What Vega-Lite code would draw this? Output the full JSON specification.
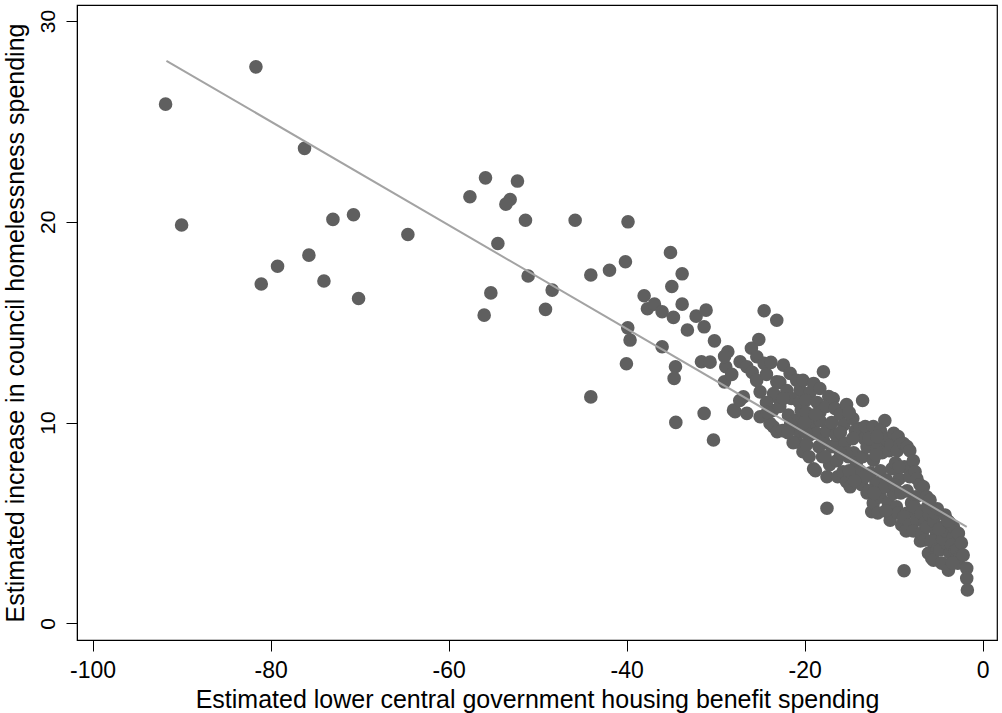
{
  "$schema": "https://vega.github.io/schema/vega-lite/v6.json",
  "width": 920,
  "height": 635,
  "autosize": "none",
  "padding": {"left": 77, "top": 5, "right": 5, "bottom": 73},
  "background": "white",
  "config": {"view": {"stroke": "black", "strokeWidth": 1.2}, "font": "Liberation Sans"},
  "layer": [
    {
      "data": {"values": [
        {"x": -91.8, "y": 25.86}, {"x": -81.65, "y": 27.72}, {"x": -90.0, "y": 19.84}, {"x": -76.19, "y": 23.66},
        {"x": -81.05, "y": 16.9}, {"x": -79.22, "y": 17.79}, {"x": -75.7, "y": 18.34}, {"x": -74.01, "y": 17.05},
        {"x": -73.0, "y": 20.12}, {"x": -70.69, "y": 20.35}, {"x": -70.12, "y": 16.18}, {"x": -64.58, "y": 19.37},
        {"x": -57.61, "y": 21.25}, {"x": -55.86, "y": 22.19}, {"x": -52.27, "y": 22.03}, {"x": -53.09, "y": 21.11},
        {"x": -53.57, "y": 20.88}, {"x": -51.37, "y": 20.08}, {"x": -45.79, "y": 20.08}, {"x": -54.47, "y": 18.92},
        {"x": -51.07, "y": 17.3}, {"x": -48.37, "y": 16.6}, {"x": -55.26, "y": 16.46}, {"x": -56.01, "y": 15.35},
        {"x": -49.12, "y": 15.64}, {"x": -44.03, "y": 17.35}, {"x": -41.93, "y": 17.59}, {"x": -40.14, "y": 18.01},
        {"x": -39.85, "y": 20.0}, {"x": -35.08, "y": 18.47}, {"x": -33.77, "y": 17.41}, {"x": -34.93, "y": 16.78},
        {"x": -38.04, "y": 16.32}, {"x": -37.67, "y": 15.67}, {"x": -36.88, "y": 15.9}, {"x": -36.02, "y": 15.52},
        {"x": -34.75, "y": 15.24}, {"x": -33.77, "y": 15.9}, {"x": -32.2, "y": 15.3}, {"x": -31.08, "y": 15.6},
        {"x": -31.3, "y": 14.77}, {"x": -33.18, "y": 14.61}, {"x": -39.88, "y": 14.72}, {"x": -39.62, "y": 14.11},
        {"x": -36.02, "y": 13.78}, {"x": -40.03, "y": 12.93}, {"x": -44.03, "y": 11.28}, {"x": -34.52, "y": 12.78},
        {"x": -34.67, "y": 12.2}, {"x": -30.14, "y": 14.07}, {"x": -31.6, "y": 13.03}, {"x": -30.63, "y": 13.01},
        {"x": -28.64, "y": 13.53}, {"x": -28.87, "y": 12.78}, {"x": -29.02, "y": 12.03}, {"x": -24.56, "y": 15.57},
        {"x": -23.14, "y": 15.1}, {"x": -25.16, "y": 14.14}, {"x": -25.99, "y": 13.7}, {"x": -25.38, "y": 13.28},
        {"x": -24.56, "y": 12.95}, {"x": -27.26, "y": 13.03}, {"x": -26.5, "y": 12.78}, {"x": -22.39, "y": 12.86},
        {"x": -21.64, "y": 12.45}, {"x": -23.14, "y": 12.03}, {"x": -25.01, "y": 11.53}, {"x": -20.52, "y": 11.62},
        {"x": -23.14, "y": 11.28}, {"x": -26.89, "y": 11.28}, {"x": -27.82, "y": 10.54}, {"x": -26.5, "y": 10.46},
        {"x": -25.01, "y": 10.29}, {"x": -23.52, "y": 9.79}, {"x": -21.83, "y": 10.37}, {"x": -31.3, "y": 10.46},
        {"x": -34.48, "y": 10.01}, {"x": -30.25, "y": 9.13}, {"x": -20.89, "y": 9.04},
        {"x": -28.0, "y": 10.62}, {"x": -27.3, "y": 11.1}, {"x": -25.9, "y": 12.5}, {"x": -25.4, "y": 12.1},
        {"x": -23.5, "y": 11.45}, {"x": -23.9, "y": 9.96}, {"x": -24.3, "y": 12.4}, {"x": -23.6, "y": 10.6},
        {"x": -23.8, "y": 13.0}, {"x": -22.8, "y": 12.0}, {"x": -22.8, "y": 10.8}, {"x": -23.1, "y": 9.54},
        {"x": -22.5, "y": 9.6}, {"x": -28.2, "y": 12.4}, {"x": -29.0, "y": 13.3},
        {"x": -22.0, "y": 11.6}, {"x": -21.5, "y": 11.2}, {"x": -20.9, "y": 12.1}, {"x": -21.0, "y": 10.1},
        {"x": -20.7, "y": 9.6}, {"x": -21.3, "y": 9.0}, {"x": -20.2, "y": 8.55}, {"x": -20.4, "y": 10.6},
        {"x": -21.6, "y": 9.9}, {"x": -20.6, "y": 11.0},
        {"x": -20.2, "y": 12.1}, {"x": -19.0, "y": 11.95}, {"x": -19.4, "y": 11.5}, {"x": -19.9, "y": 11.1},
        {"x": -19.8, "y": 10.5}, {"x": -19.2, "y": 9.96}, {"x": -19.4, "y": 9.4}, {"x": -19.8, "y": 8.9},
        {"x": -19.0, "y": 7.7}, {"x": -19.5, "y": 8.3}, {"x": -18.8, "y": 7.6}, {"x": -18.6, "y": 11.0},
        {"x": -18.3, "y": 11.7}, {"x": -18.3, "y": 10.5}, {"x": -18.3, "y": 10.1}, {"x": -18.65, "y": 9.46},
        {"x": -18.4, "y": 8.8}, {"x": -18.0, "y": 8.3}, {"x": -18.8, "y": 10.4},
        {"x": -17.9, "y": 12.53}, {"x": -17.3, "y": 11.3}, {"x": -17.6, "y": 10.8}, {"x": -17.9, "y": 9.13},
        {"x": -17.5, "y": 9.6}, {"x": -17.0, "y": 8.8}, {"x": -17.5, "y": 7.3}, {"x": -17.2, "y": 7.9},
        {"x": -17.5, "y": 5.73}, {"x": -16.8, "y": 11.2}, {"x": -16.6, "y": 10.7}, {"x": -16.97, "y": 10.0},
        {"x": -16.4, "y": 8.96}, {"x": -16.4, "y": 8.1}, {"x": -16.3, "y": 7.3}, {"x": -16.5, "y": 9.4},
        {"x": -16.0, "y": 10.4},
        {"x": -15.3, "y": 10.9}, {"x": -15.6, "y": 9.9}, {"x": -16.0, "y": 9.5}, {"x": -15.5, "y": 8.96},
        {"x": -15.7, "y": 7.55}, {"x": -15.3, "y": 7.05}, {"x": -15.1, "y": 8.3}, {"x": -14.9, "y": 6.8},
        {"x": -14.6, "y": 10.2}, {"x": -14.3, "y": 9.6}, {"x": -14.5, "y": 8.5}, {"x": -14.2, "y": 8.0},
        {"x": -14.0, "y": 7.2}, {"x": -15.0, "y": 10.5}, {"x": -15.4, "y": 8.5},
        {"x": -13.5, "y": 11.1}, {"x": -13.8, "y": 9.7}, {"x": -13.2, "y": 9.8}, {"x": -13.3, "y": 9.2},
        {"x": -13.5, "y": 8.3}, {"x": -13.0, "y": 8.8}, {"x": -13.8, "y": 7.6}, {"x": -13.6, "y": 6.9},
        {"x": -13.0, "y": 6.5}, {"x": -12.3, "y": 9.8}, {"x": -12.8, "y": 9.2}, {"x": -12.28, "y": 8.13},
        {"x": -12.6, "y": 7.5}, {"x": -12.0, "y": 7.0}, {"x": -12.8, "y": 6.6}, {"x": -12.47, "y": 5.56},
        {"x": -12.3, "y": 6.0},
        {"x": -11.0, "y": 10.1}, {"x": -11.5, "y": 9.6}, {"x": -11.0, "y": 9.0}, {"x": -11.9, "y": 8.7},
        {"x": -11.3, "y": 8.5}, {"x": -11.5, "y": 7.6}, {"x": -11.5, "y": 6.3}, {"x": -11.8, "y": 5.5},
        {"x": -10.8, "y": 7.14}, {"x": -10.5, "y": 8.6}, {"x": -10.9, "y": 9.2}, {"x": -10.2, "y": 7.7},
        {"x": -10.6, "y": 6.0}, {"x": -10.04, "y": 6.47}, {"x": -10.4, "y": 5.14}, {"x": -10.3, "y": 8.9},
        {"x": -11.0, "y": 6.8},
        {"x": -10.0, "y": 9.46}, {"x": -9.5, "y": 9.3}, {"x": -9.3, "y": 8.9}, {"x": -9.6, "y": 8.6},
        {"x": -9.8, "y": 8.0}, {"x": -9.4, "y": 7.2}, {"x": -9.9, "y": 6.9}, {"x": -9.2, "y": 6.5},
        {"x": -9.7, "y": 5.8}, {"x": -9.5, "y": 5.5}, {"x": -9.1, "y": 4.9}, {"x": -8.9, "y": 8.96},
        {"x": -8.5, "y": 8.8}, {"x": -8.8, "y": 7.8}, {"x": -8.2, "y": 7.3}, {"x": -8.5, "y": 6.6},
        {"x": -8.0, "y": 6.0}, {"x": -8.54, "y": 5.48}, {"x": -8.9, "y": 5.3}, {"x": -8.3, "y": 4.9},
        {"x": -8.84, "y": 2.62}, {"x": -9.4, "y": 7.8}, {"x": -8.6, "y": 4.6},
        {"x": -8.2, "y": 8.6}, {"x": -7.8, "y": 8.1}, {"x": -7.6, "y": 7.55}, {"x": -7.4, "y": 7.2},
        {"x": -7.05, "y": 6.9}, {"x": -7.5, "y": 6.3}, {"x": -7.2, "y": 5.6}, {"x": -7.7, "y": 5.8},
        {"x": -7.41, "y": 5.14}, {"x": -7.8, "y": 4.6}, {"x": -7.0, "y": 4.1}, {"x": -6.67, "y": 6.8},
        {"x": -6.3, "y": 6.3}, {"x": -6.9, "y": 5.5}, {"x": -6.2, "y": 5.8}, {"x": -6.5, "y": 5.0},
        {"x": -6.8, "y": 4.5}, {"x": -6.29, "y": 4.81}, {"x": -6.48, "y": 4.15}, {"x": -6.1, "y": 3.49},
        {"x": -5.92, "y": 6.14}, {"x": -6.0, "y": 5.4}, {"x": -5.5, "y": 5.1}, {"x": -5.4, "y": 5.5},
        {"x": -5.2, "y": 4.5}, {"x": -5.8, "y": 4.1}, {"x": -5.1, "y": 3.7}, {"x": -5.73, "y": 3.24},
        {"x": -5.54, "y": 3.15}, {"x": -4.8, "y": 3.65}, {"x": -4.4, "y": 4.81}, {"x": -4.23, "y": 5.39},
        {"x": -4.04, "y": 3.98}, {"x": -4.5, "y": 4.2}, {"x": -4.6, "y": 3.0}, {"x": -4.2, "y": 4.6},
        {"x": -4.9, "y": 4.7}, {"x": -5.1, "y": 5.7},
        {"x": -3.67, "y": 4.98}, {"x": -3.86, "y": 2.65}, {"x": -3.67, "y": 3.49}, {"x": -3.3, "y": 4.31},
        {"x": -3.3, "y": 4.81}, {"x": -3.5, "y": 3.9}, {"x": -3.9, "y": 5.1}, {"x": -3.1, "y": 3.6},
        {"x": -2.74, "y": 4.48}, {"x": -2.92, "y": 3.65}, {"x": -2.55, "y": 3.32}, {"x": -2.4, "y": 4.0},
        {"x": -2.8, "y": 3.0}, {"x": -2.2, "y": 3.4}, {"x": -3.4, "y": 3.0},
        {"x": -1.8, "y": 2.74}, {"x": -1.8, "y": 2.24}, {"x": -1.73, "y": 1.66},
        {"x": -16.0, "y": 8.5}, {"x": -15.0, "y": 7.6}, {"x": -14.6, "y": 9.2}, {"x": -13.2, "y": 7.3},
        {"x": -12.0, "y": 8.4}, {"x": -11.9, "y": 9.3}, {"x": -12.2, "y": 6.5}, {"x": -17.7, "y": 8.3},
        {"x": -19.9, "y": 9.5}, {"x": -21.9, "y": 9.5}, {"x": -22.4, "y": 11.2}, {"x": -24.3, "y": 11.0},
        {"x": -24.2, "y": 10.5}, {"x": -20.0, "y": 10.0}, {"x": -14.4, "y": 7.1}, {"x": -10.9, "y": 5.6}
      ]},
      "mark": {"type": "circle", "size": 185, "color": "#5f5f5f", "opacity": 1},
      "encoding": {
        "x": {
          "field": "x", "type": "quantitative",
          "scale": {"domain": [-101.75, 1.6], "nice": false, "zero": false},
          "axis": {
            "values": [-100, -80, -60, -40, -20, 0],
            "labelExpr": "'' + datum.value",
            "grid": false,
            "domainColor": "black", "domainWidth": 1,
            "tickColor": "black", "tickSize": 11, "tickWidth": 1,
            "labelFont": "Liberation Sans", "labelFontSize": 23, "labelColor": "black",
            "labelBaseline": "alphabetic", "labelPadding": 26,
            "title": "Estimated lower central government housing benefit spending",
            "titleFont": "Liberation Sans", "titleFontSize": 25, "titleFontWeight": "normal", "titleColor": "black",
            "titleBaseline": "alphabetic", "titleY": 67
          }
        },
        "y": {
          "field": "y", "type": "quantitative",
          "scale": {"domain": [-0.83, 30.8], "nice": false, "zero": false},
          "axis": {
            "values": [0, 10, 20, 30],
            "grid": false,
            "domainColor": "black", "domainWidth": 1,
            "tickColor": "black", "tickSize": 11, "tickWidth": 1,
            "labelFont": "Liberation Sans", "labelFontSize": 21, "labelColor": "black",
            "labelAngle": -90, "labelAlign": "center", "labelBaseline": "alphabetic", "labelPadding": 12,
            "title": "Estimated increase in council homelessness spending",
            "titleFont": "Liberation Sans", "titleFontSize": 25, "titleFontWeight": "normal", "titleColor": "black",
            "titleBaseline": "alphabetic", "titleX": -53.5
          }
        }
      }
    },
    {
      "data": {"values": [{"x": -91.7, "y": 28.02}, {"x": -1.8, "y": 4.81}]},
      "mark": {"type": "line", "color": "#a3a3a3", "strokeWidth": 2},
      "encoding": {
        "x": {"field": "x", "type": "quantitative"},
        "y": {"field": "y", "type": "quantitative"}
      }
    }
  ]
}
